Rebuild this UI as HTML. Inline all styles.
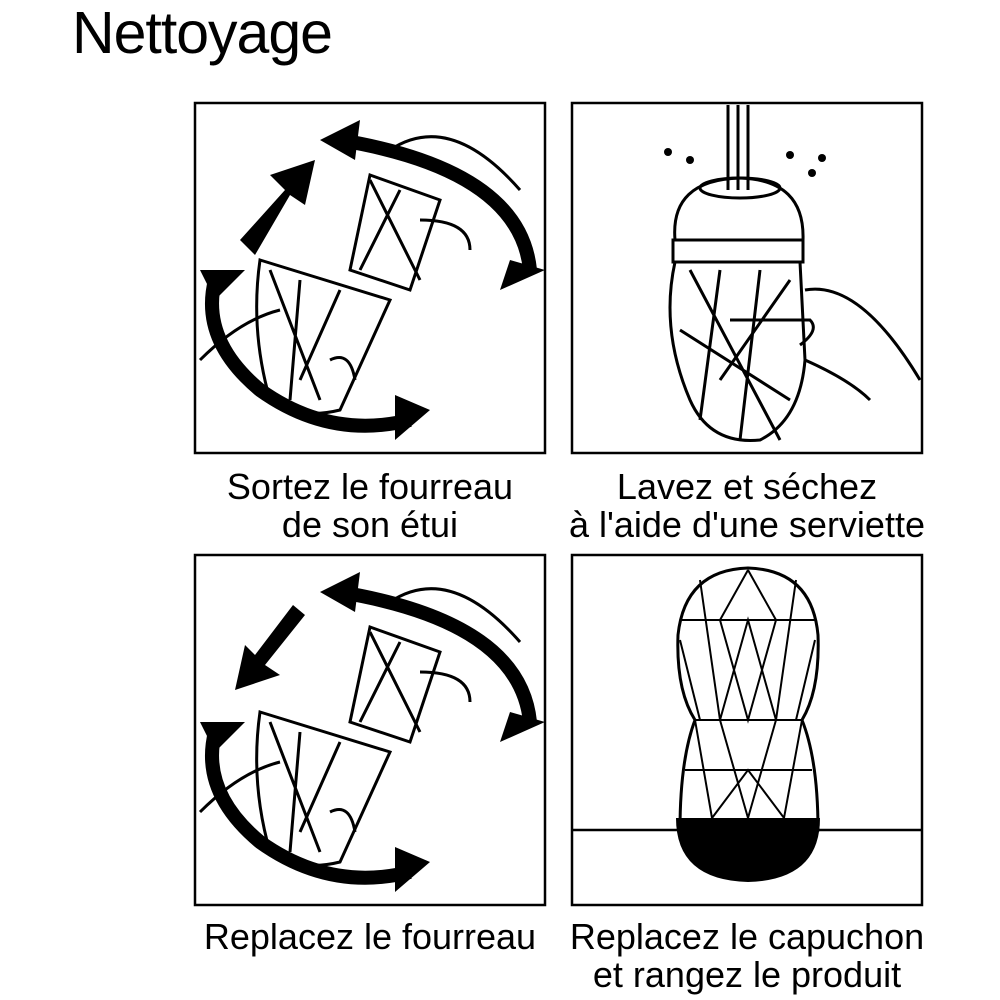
<!DOCTYPE html>
<html><head><meta charset="utf-8"><style>
html,body{margin:0;padding:0;background:#fff}
body{width:1000px;height:1000px;position:relative;overflow:hidden;font-family:"Liberation Sans",sans-serif;color:#000}
.t{position:absolute;white-space:nowrap;text-align:center;font-size:36px;line-height:38px}
</style></head><body>
<div class="t" style="left:72px;top:0px;font-size:59px;line-height:66px;text-align:left;letter-spacing:-1px">Nettoyage</div>
<svg width="1000" height="1000" style="position:absolute;left:0;top:0">
<defs>
<g id="b1">
<path d="M340 140 Q520 170 530 270" stroke="#000" stroke-width="14" fill="none"/>
<polygon points="320,140 360,120 355,160" fill="#000"/>
<polygon points="510,260 545,270 500,290" fill="#000"/>
<path d="M215 280 Q200 340 260 390 Q330 440 410 420" stroke="#000" stroke-width="14" fill="none"/>
<polygon points="200,270 245,270 215,300" fill="#000"/>
<polygon points="395,395 430,410 395,440" fill="#000"/>
<g fill="none" stroke="#000" stroke-width="3">
<path d="M260 260 L390 300 L340 410 Q300 420 270 400 Q250 330 260 260Z"/>
<path d="M370 175 L440 200 L410 290 L350 270Z"/>
<path d="M270 270 L320 400 M300 280 L290 400 M340 290 L300 380 M370 180 L420 280 M400 190 L360 270"/>
<path d="M390 150 Q450 110 520 190 M420 220 Q470 220 470 250 M200 360 Q240 320 280 310 M330 360 Q350 350 355 380"/>
</g></g>
</defs>
<g fill="none" stroke="#000" stroke-width="2.5">
<rect x="195" y="103" width="350" height="350"/>
<rect x="572" y="103" width="350" height="350"/>
<rect x="195" y="555" width="350" height="350"/>
<rect x="572" y="555" width="350" height="350"/>
</g>
<use href="#b1"/>
<polygon points="240,240 285,190 270,175 315,160 305,205 290,195 255,255" fill="#000"/>
<use href="#b1" transform="translate(0,452)"/>
<polygon points="305,615 265,665 280,675 235,690 245,645 255,655 293,605" fill="#000"/>
<!-- box2 -->
<g fill="none" stroke="#000" stroke-width="3">
<path d="M728 105 L728 190 M748 105 L748 190 M738 105 L738 190"/>
<path d="M675 240 Q670 180 740 178 Q805 180 803 240 Z"/>
<ellipse cx="740" cy="188" rx="40" ry="10"/>
<path d="M673 240 L803 240 L803 262 L673 262 Z"/>
<path d="M675 262 Q660 330 690 400 Q710 445 760 440 Q800 420 805 360 L800 262"/>
<path d="M690 270 L780 440 M720 270 L700 420 M760 270 L740 440 M790 280 L720 380 M680 330 L790 400"/>
<path d="M805 290 Q860 280 920 380 M730 320 L810 320 Q820 330 800 345 M805 360 Q850 380 870 400"/>
</g>
<g fill="#000"><circle cx="668" cy="152" r="4"/><circle cx="690" cy="160" r="4"/><circle cx="790" cy="155" r="4"/><circle cx="812" cy="173" r="4"/><circle cx="822" cy="158" r="4"/></g>
<!-- box4 -->
<line x1="572" y1="830" x2="922" y2="830" stroke="#000" stroke-width="2.5"/>
<path d="M748 568 Q685 570 678 635 Q676 690 695 720 Q680 760 680 830 L818 830 Q818 760 802 720 Q820 690 818 635 Q812 570 748 568Z" fill="none" stroke="#000" stroke-width="3"/>
<path d="M676 818 L820 818 Q820 880 748 882 Q676 880 676 818Z" fill="#000"/>
<g fill="none" stroke="#000" stroke-width="2">
<path d="M680 620 L815 620 M695 720 L802 720 M685 770 L812 770"/>
<path d="M700 580 L720 720 L748 620 L776 720 L796 580 M680 640 L700 720 M815 640 L796 720 M748 570 L720 620 L748 720 L776 620 L748 570"/>
<path d="M695 720 L712 818 L748 770 L784 818 L802 720 M720 720 L748 818 L776 720"/>
</g>
</svg>
<div class="t" style="left:170px;width:400px;top:468px">Sortez le fourreau<br>de son étui</div>
<div class="t" style="left:537px;width:420px;top:468px">Lavez et séchez<br>à l'aide d'une serviette</div>
<div class="t" style="left:170px;width:400px;top:918px">Replacez le fourreau</div>
<div class="t" style="left:537px;width:420px;top:918px">Replacez le capuchon<br>et rangez le produit</div>
</body></html>
